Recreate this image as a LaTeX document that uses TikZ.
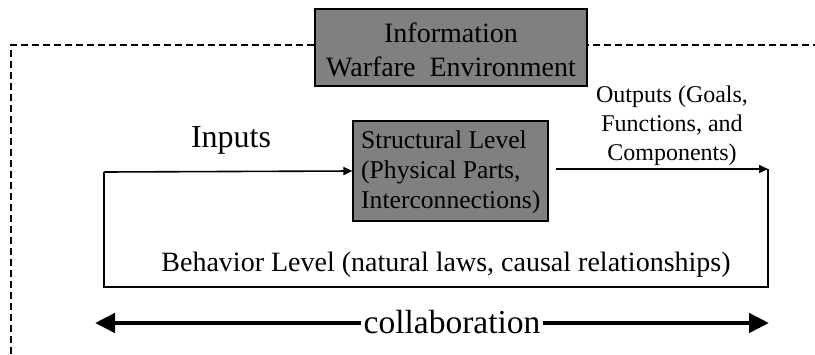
\documentclass[tikz,border=0pt]{standalone}
\usepackage{fontspec}
\setmainfont{Liberation Serif}
\usetikzlibrary{arrows.meta}
\begin{document}
\begin{tikzpicture}[x=1pt,y=-1pt,
  graybox/.style={draw=black,line width=1.2pt,fill=black!50,inner sep=0pt},
  flow/.style={line width=1.6pt,-{Triangle[length=9pt,width=8pt]}},
  loopline/.style={line width=1.6pt},
  bigarrow/.style={line width=4.5pt,-{Triangle[length=20pt,width=19pt]}},
  frame/.style={line width=1.2pt,dash pattern=on 7pt off 4pt},
  lbl/.style={inner sep=0pt,text=black}]
\useasboundingbox (0,0) rectangle (815,354);

% dashed environment frame, open to the right and bottom
\draw[frame] (11,354) -- (11,45) -- (815,45);

% environment box
\node[graybox,minimum width=272pt,minimum height=77pt] (env) at (451,47.5) {};
\node[lbl,align=center,font=\fontsize{28}{34}\selectfont] (envtext) at (451,50)
  {Information\\Warfare\ \ Environment};

% structural level box
\node[graybox,minimum width=195pt,minimum height=100pt] (struct) at (450.5,171) {};
\node[lbl,align=left,anchor=west,font=\fontsize{25.6}{30}\selectfont] (structtext) at (361,172)
  {Structural Level\\(Physical Parts,\\Interconnections)};

% labels
\node[lbl,font=\fontsize{32}{32}\selectfont] (inputs) at (231,140) {Inputs};
\node[lbl,align=center,font=\fontsize{24}{29}\selectfont] (outputs) at (672,126)
  {Outputs (Goals,\\Functions, and\\Components)};
\node[lbl,font=\fontsize{28}{28}\selectfont] (behavior) at (446,265)
  {Behavior Level (natural laws, causal relationships)};
\node[lbl,font=\fontsize{33.5}{33.5}\selectfont,inner xsep=2pt] (collab) at (452,322) {collaboration};

% feedback loop
\coordinate (outend) at (768,169);
\coordinate (loopBR) at (768,287);
\coordinate (loopBL) at (104,287);
\coordinate (loopTL) at (104,172);
\draw[flow] ([xshift=7pt,yshift=2pt]struct.east) -- (outend);
\draw[loopline] (outend) -- (loopBR) -- (loopBL) -- (loopTL);
\draw[flow] (loopTL) -- (struct.west);

% collaboration arrow
\coordinate (cL) at (95,323);
\coordinate (cR) at (769,323);
\draw[bigarrow] (collab.west |- cL) -- (cL);
\draw[bigarrow] (collab.east |- cR) -- (cR);
\end{tikzpicture}
\end{document}
